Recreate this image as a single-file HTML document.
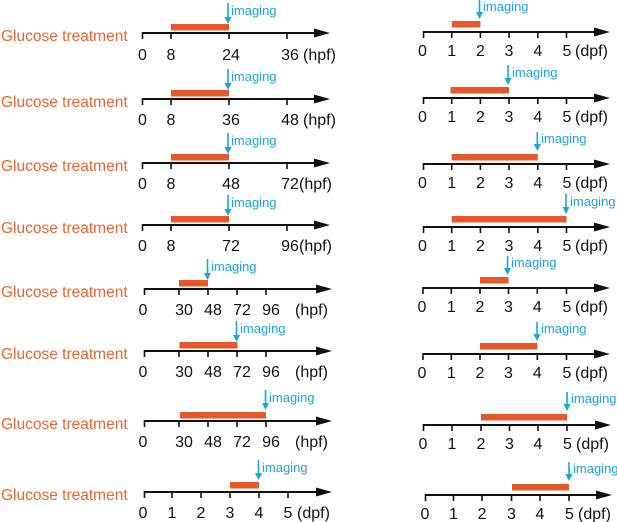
<!DOCTYPE html>
<html><head><meta charset="utf-8"><style>
html,body{margin:0;padding:0;background:#fff;}
svg{display:block;}
text{font-family:"Liberation Sans",Arial,sans-serif;}
.g{fill:#e8662f;font-size:15.5px;}
.t{fill:#111;font-size:16px;text-anchor:middle;}
.u{fill:#111;font-size:16px;}
.im{fill:#1ba4dd;font-size:13px;}
</style></head><body>
<svg width="617" height="522" viewBox="0 0 617 522" xmlns="http://www.w3.org/2000/svg">
<g id="left">
<!-- Row 1 -->
<text class="g" x="1" y="41">Glucose treatment</text>
<line x1="142" y1="33" x2="320" y2="33" stroke="#111" stroke-width="2"/>
<polygon points="314,28.5 330,33 314,37.5" fill="#111"/>
<g stroke="#111" stroke-width="1.6"><line x1="142.5" y1="32" x2="142.5" y2="39"/><line x1="171" y1="33" x2="171" y2="39"/><line x1="229" y1="33" x2="229" y2="39"/><line x1="287" y1="33" x2="287" y2="39"/></g>
<text class="t" x="142.5" y="60">0</text><text class="t" x="171" y="60">8</text><text class="t" x="231" y="60">24</text><text class="t" x="290" y="60">36</text><text class="u" x="303" y="60">(hpf)</text>
<rect x="171" y="24" width="58" height="6.5" fill="#e8562b"/>
<line x1="228" y1="3" x2="228" y2="18" stroke="#1ba4dd" stroke-width="1.6"/><polygon points="224.5,17 231.5,17 228,24" fill="#1ba4dd"/>
<text class="im" x="231" y="15">imaging</text>

<!-- Row 2 -->
<text class="g" x="1" y="107">Glucose treatment</text>
<line x1="142" y1="99" x2="320" y2="99" stroke="#111" stroke-width="2"/>
<polygon points="314,94.5 330,99 314,103.5" fill="#111"/>
<g stroke="#111" stroke-width="1.6"><line x1="142.5" y1="98" x2="142.5" y2="105"/><line x1="171" y1="99" x2="171" y2="105"/><line x1="229" y1="99" x2="229" y2="105"/><line x1="287" y1="99" x2="287" y2="105"/></g>
<text class="t" x="142.5" y="125">0</text><text class="t" x="171" y="125">8</text><text class="t" x="231" y="125">36</text><text class="t" x="290" y="125">48</text><text class="u" x="303" y="125">(hpf)</text>
<rect x="171" y="90" width="58" height="6.5" fill="#e8562b"/>
<line x1="228" y1="69" x2="228" y2="84" stroke="#1ba4dd" stroke-width="1.6"/><polygon points="224.5,83 231.5,83 228,90" fill="#1ba4dd"/>
<text class="im" x="231" y="81">imaging</text>

<!-- Row 3 -->
<text class="g" x="1" y="171">Glucose treatment</text>
<line x1="142" y1="163" x2="320" y2="163" stroke="#111" stroke-width="2"/>
<polygon points="314,158.5 330,163 314,167.5" fill="#111"/>
<g stroke="#111" stroke-width="1.6"><line x1="142.5" y1="162" x2="142.5" y2="169"/><line x1="171" y1="163" x2="171" y2="169"/><line x1="229" y1="163" x2="229" y2="169"/><line x1="287" y1="163" x2="287" y2="169"/></g>
<text class="t" x="142.5" y="189">0</text><text class="t" x="171" y="189">8</text><text class="t" x="231" y="189">48</text><text class="t" x="290" y="189">72</text><text class="u" x="299" y="189">(hpf)</text>
<rect x="171" y="154" width="58" height="6.5" fill="#e8562b"/>
<line x1="228" y1="133" x2="228" y2="148" stroke="#1ba4dd" stroke-width="1.6"/><polygon points="224.5,147 231.5,147 228,154" fill="#1ba4dd"/>
<text class="im" x="231" y="145">imaging</text>

<!-- Row 4 -->
<text class="g" x="1" y="233">Glucose treatment</text>
<line x1="142" y1="225" x2="320" y2="225" stroke="#111" stroke-width="2"/>
<polygon points="314,220.5 330,225 314,229.5" fill="#111"/>
<g stroke="#111" stroke-width="1.6"><line x1="142.5" y1="224" x2="142.5" y2="231"/><line x1="171" y1="225" x2="171" y2="231"/><line x1="229" y1="225" x2="229" y2="231"/><line x1="287" y1="225" x2="287" y2="231"/></g>
<text class="t" x="142.5" y="251">0</text><text class="t" x="171" y="251">8</text><text class="t" x="231" y="251">72</text><text class="t" x="290" y="251">96</text><text class="u" x="299" y="251">(hpf)</text>
<rect x="171" y="216" width="58" height="6.5" fill="#e8562b"/>
<line x1="228" y1="195" x2="228" y2="210" stroke="#1ba4dd" stroke-width="1.6"/><polygon points="224.5,209 231.5,209 228,216" fill="#1ba4dd"/>
<text class="im" x="231" y="207">imaging</text>

<!-- Row 5 -->
<text class="g" x="1" y="297">Glucose treatment</text>
<line x1="144" y1="289" x2="322" y2="289" stroke="#111" stroke-width="2"/>
<polygon points="316,284.5 332,289 316,293.5" fill="#111"/>
<g stroke="#111" stroke-width="1.6"><line x1="144.5" y1="288" x2="144.5" y2="295"/><line x1="179" y1="289" x2="179" y2="295"/><line x1="208" y1="289" x2="208" y2="295"/><line x1="237" y1="289" x2="237" y2="295"/><line x1="266" y1="289" x2="266" y2="295"/></g>
<text class="t" x="143" y="315">0</text><text class="t" x="184" y="315">30</text><text class="t" x="213" y="315">48</text><text class="t" x="242" y="315">72</text><text class="t" x="271" y="315">96</text><text class="u" x="295" y="315">(hpf)</text>
<rect x="179" y="280" width="29" height="6.5" fill="#e8562b"/>
<line x1="207.5" y1="259" x2="207.5" y2="274" stroke="#1ba4dd" stroke-width="1.6"/><polygon points="204,273 211,273 207.5,280" fill="#1ba4dd"/>
<text class="im" x="211" y="271">imaging</text>

<!-- Row 6 -->
<text class="g" x="1" y="359">Glucose treatment</text>
<line x1="144" y1="351" x2="322" y2="351" stroke="#111" stroke-width="2"/>
<polygon points="316,346.5 332,351 316,355.5" fill="#111"/>
<g stroke="#111" stroke-width="1.6"><line x1="144.5" y1="350" x2="144.5" y2="357"/><line x1="179" y1="351" x2="179" y2="357"/><line x1="208" y1="351" x2="208" y2="357"/><line x1="237" y1="351" x2="237" y2="357"/><line x1="266" y1="351" x2="266" y2="357"/></g>
<text class="t" x="143" y="377">0</text><text class="t" x="184" y="377">30</text><text class="t" x="213" y="377">48</text><text class="t" x="242" y="377">72</text><text class="t" x="271" y="377">96</text><text class="u" x="295" y="377">(hpf)</text>
<rect x="179.5" y="342" width="58" height="6.5" fill="#e8562b"/>
<line x1="236.5" y1="321" x2="236.5" y2="336" stroke="#1ba4dd" stroke-width="1.6"/><polygon points="233,335 240,335 236.5,342" fill="#1ba4dd"/>
<text class="im" x="240" y="333">imaging</text>

<!-- Row 7 -->
<text class="g" x="1" y="429">Glucose treatment</text>
<line x1="144" y1="421" x2="322" y2="421" stroke="#111" stroke-width="2"/>
<polygon points="316,416.5 332,421 316,425.5" fill="#111"/>
<g stroke="#111" stroke-width="1.6"><line x1="144.5" y1="420" x2="144.5" y2="427"/><line x1="179" y1="421" x2="179" y2="427"/><line x1="208" y1="421" x2="208" y2="427"/><line x1="237" y1="421" x2="237" y2="427"/><line x1="266" y1="421" x2="266" y2="427"/></g>
<text class="t" x="143" y="447">0</text><text class="t" x="184" y="447">30</text><text class="t" x="213" y="447">48</text><text class="t" x="242" y="447">72</text><text class="t" x="271" y="447">96</text><text class="u" x="295" y="447">(hpf)</text>
<rect x="180" y="412" width="86" height="6.5" fill="#e8562b"/>
<line x1="265.5" y1="390" x2="265.5" y2="404" stroke="#1ba4dd" stroke-width="1.6"/><polygon points="262,403 269,403 265.5,410" fill="#1ba4dd"/>
<text class="im" x="269" y="402">imaging</text>

<!-- Row 8 -->
<text class="g" x="1" y="500">Glucose treatment</text>
<line x1="144" y1="492" x2="322" y2="492" stroke="#111" stroke-width="2"/>
<polygon points="316,487.5 332,492 316,496.5" fill="#111"/>
<g stroke="#111" stroke-width="1.6"><line x1="144.5" y1="491" x2="144.5" y2="498"/><line x1="172" y1="492" x2="172" y2="498"/><line x1="201" y1="492" x2="201" y2="498"/><line x1="230" y1="492" x2="230" y2="498"/><line x1="259" y1="492" x2="259" y2="498"/><line x1="288" y1="492" x2="288" y2="498"/></g>
<text class="t" x="143" y="518">0</text><text class="t" x="172" y="518">1</text><text class="t" x="201" y="518">2</text><text class="t" x="230" y="518">3</text><text class="t" x="259" y="518">4</text><text class="t" x="288" y="518">5</text><text class="u" x="297" y="518">(dpf)</text>
<rect x="230" y="482" width="29" height="6.5" fill="#e8562b"/>
<line x1="258.5" y1="460" x2="258.5" y2="474" stroke="#1ba4dd" stroke-width="1.6"/><polygon points="255,473 262,473 258.5,480" fill="#1ba4dd"/>
<text class="im" x="262" y="472">imaging</text>
</g>

<g id="right">
<!-- R1 y=32 -->
<line x1="423" y1="32" x2="600" y2="32" stroke="#111" stroke-width="2"/>
<polygon points="594,27.5 610,32 594,36.5" fill="#111"/>
<g stroke="#111" stroke-width="1.6"><line x1="423.5" y1="31" x2="423.5" y2="38"/><line x1="451.7" y1="32" x2="451.7" y2="38"/><line x1="480.4" y1="32" x2="480.4" y2="38"/><line x1="509" y1="32" x2="509" y2="38"/><line x1="537.8" y1="32" x2="537.8" y2="38"/><line x1="566.5" y1="32" x2="566.5" y2="38"/></g>
<text class="t" x="422.5" y="56">0</text><text class="t" x="451.7" y="56">1</text><text class="t" x="480.4" y="56">2</text><text class="t" x="509" y="56">3</text><text class="t" x="537.8" y="56">4</text><text class="t" x="567" y="56">5</text><text class="u" x="575" y="56">(dpf)</text>
<rect x="451.7" y="21" width="28.7" height="6.5" fill="#e8562b"/>
<line x1="479.5" y1="0" x2="479.5" y2="13" stroke="#1ba4dd" stroke-width="1.6"/><polygon points="476,12 483,12 479.5,19" fill="#1ba4dd"/>
<text class="im" x="483" y="11">imaging</text>

<!-- R2 y=98 -->
<line x1="423" y1="98" x2="600" y2="98" stroke="#111" stroke-width="2"/>
<polygon points="594,93.5 610,98 594,102.5" fill="#111"/>
<g stroke="#111" stroke-width="1.6"><line x1="423.5" y1="97" x2="423.5" y2="104"/><line x1="451.7" y1="98" x2="451.7" y2="104"/><line x1="480.4" y1="98" x2="480.4" y2="104"/><line x1="509" y1="98" x2="509" y2="104"/><line x1="537.8" y1="98" x2="537.8" y2="104"/><line x1="566.5" y1="98" x2="566.5" y2="104"/></g>
<text class="t" x="422.5" y="122">0</text><text class="t" x="451.7" y="122">1</text><text class="t" x="480.4" y="122">2</text><text class="t" x="509" y="122">3</text><text class="t" x="537.8" y="122">4</text><text class="t" x="567" y="122">5</text><text class="u" x="575" y="122">(dpf)</text>
<rect x="450.5" y="87" width="58.5" height="6.5" fill="#e8562b"/>
<line x1="508" y1="65" x2="508" y2="79" stroke="#1ba4dd" stroke-width="1.6"/><polygon points="504.5,78 511.5,78 508,85" fill="#1ba4dd"/>
<text class="im" x="512" y="77">imaging</text>

<!-- R3 y=164 -->
<line x1="423" y1="164" x2="600" y2="164" stroke="#111" stroke-width="2"/>
<polygon points="594,159.5 610,164 594,168.5" fill="#111"/>
<g stroke="#111" stroke-width="1.6"><line x1="423.5" y1="163" x2="423.5" y2="170"/><line x1="451.7" y1="164" x2="451.7" y2="170"/><line x1="480.4" y1="164" x2="480.4" y2="170"/><line x1="509" y1="164" x2="509" y2="170"/><line x1="537.8" y1="164" x2="537.8" y2="170"/><line x1="566.5" y1="164" x2="566.5" y2="170"/></g>
<text class="t" x="422.5" y="188">0</text><text class="t" x="451.7" y="188">1</text><text class="t" x="480.4" y="188">2</text><text class="t" x="509" y="188">3</text><text class="t" x="537.8" y="188">4</text><text class="t" x="567" y="188">5</text><text class="u" x="575" y="188">(dpf)</text>
<rect x="451.7" y="154" width="86.1" height="6.5" fill="#e8562b"/>
<line x1="537.3" y1="132" x2="537.3" y2="145" stroke="#1ba4dd" stroke-width="1.6"/><polygon points="533.8,144 540.8,144 537.3,151" fill="#1ba4dd"/>
<text class="im" x="541" y="143">imaging</text>

<!-- R4 y=227 -->
<line x1="423" y1="227" x2="600" y2="227" stroke="#111" stroke-width="2"/>
<polygon points="594,222.5 610,227 594,231.5" fill="#111"/>
<g stroke="#111" stroke-width="1.6"><line x1="423.5" y1="226" x2="423.5" y2="233"/><line x1="451.7" y1="227" x2="451.7" y2="233"/><line x1="480.4" y1="227" x2="480.4" y2="233"/><line x1="509" y1="227" x2="509" y2="233"/><line x1="537.8" y1="227" x2="537.8" y2="233"/><line x1="566.5" y1="227" x2="566.5" y2="233"/></g>
<text class="t" x="422.5" y="251">0</text><text class="t" x="451.7" y="251">1</text><text class="t" x="480.4" y="251">2</text><text class="t" x="509" y="251">3</text><text class="t" x="537.8" y="251">4</text><text class="t" x="567" y="251">5</text><text class="u" x="575" y="251">(dpf)</text>
<rect x="451.7" y="216" width="114.8" height="6.5" fill="#e8562b"/>
<line x1="566" y1="194" x2="566" y2="208" stroke="#1ba4dd" stroke-width="1.6"/><polygon points="562.5,207 569.5,207 566,214" fill="#1ba4dd"/>
<text class="im" x="570" y="206">imaging</text>

<!-- R5 y=288 -->
<line x1="423" y1="288" x2="600" y2="288" stroke="#111" stroke-width="2"/>
<polygon points="594,283.5 610,288 594,292.5" fill="#111"/>
<g stroke="#111" stroke-width="1.6"><line x1="423" y1="287" x2="423" y2="294"/><line x1="451.3" y1="288" x2="451.3" y2="294"/><line x1="480" y1="288" x2="480" y2="294"/><line x1="508.5" y1="288" x2="508.5" y2="294"/><line x1="537.3" y1="288" x2="537.3" y2="294"/><line x1="566.5" y1="288" x2="566.5" y2="294"/></g>
<text class="t" x="422" y="312">0</text><text class="t" x="451.3" y="312">1</text><text class="t" x="480" y="312">2</text><text class="t" x="508.5" y="312">3</text><text class="t" x="537.3" y="312">4</text><text class="t" x="567" y="312">5</text><text class="u" x="575" y="312">(dpf)</text>
<rect x="480" y="277" width="28.5" height="6.5" fill="#e8562b"/>
<line x1="507.5" y1="256" x2="507.5" y2="269" stroke="#1ba4dd" stroke-width="1.6"/><polygon points="504,268 511,268 507.5,275" fill="#1ba4dd"/>
<text class="im" x="511" y="267">imaging</text>

<!-- R6 y=354 -->
<line x1="423" y1="354" x2="600" y2="354" stroke="#111" stroke-width="2"/>
<polygon points="594,349.5 610,354 594,358.5" fill="#111"/>
<g stroke="#111" stroke-width="1.6"><line x1="423" y1="353" x2="423" y2="360"/><line x1="451.3" y1="354" x2="451.3" y2="360"/><line x1="480" y1="354" x2="480" y2="360"/><line x1="508.5" y1="354" x2="508.5" y2="360"/><line x1="537.3" y1="354" x2="537.3" y2="360"/><line x1="566.5" y1="354" x2="566.5" y2="360"/></g>
<text class="t" x="422" y="378">0</text><text class="t" x="451.3" y="378">1</text><text class="t" x="480" y="378">2</text><text class="t" x="508.5" y="378">3</text><text class="t" x="537.3" y="378">4</text><text class="t" x="567" y="378">5</text><text class="u" x="575" y="378">(dpf)</text>
<rect x="480" y="343" width="57.3" height="6.5" fill="#e8562b"/>
<line x1="537" y1="322" x2="537" y2="335" stroke="#1ba4dd" stroke-width="1.6"/><polygon points="533.5,334 540.5,334 537,341" fill="#1ba4dd"/>
<text class="im" x="541" y="333">imaging</text>

<!-- R7 y=425 -->
<line x1="423" y1="425" x2="601" y2="425" stroke="#111" stroke-width="2"/>
<polygon points="595,420.5 611,425 595,429.5" fill="#111"/>
<g stroke="#111" stroke-width="1.6"><line x1="423.5" y1="424" x2="423.5" y2="431"/><line x1="452" y1="425" x2="452" y2="431"/><line x1="481" y1="425" x2="481" y2="431"/><line x1="509.5" y1="425" x2="509.5" y2="431"/><line x1="538" y1="425" x2="538" y2="431"/><line x1="567" y1="425" x2="567" y2="431"/></g>
<text class="t" x="423" y="449">0</text><text class="t" x="452" y="449">1</text><text class="t" x="481" y="449">2</text><text class="t" x="509.5" y="449">3</text><text class="t" x="538" y="449">4</text><text class="t" x="567.5" y="449">5</text><text class="u" x="576" y="449">(dpf)</text>
<rect x="481" y="414" width="86" height="6.5" fill="#e8562b"/>
<line x1="567" y1="392" x2="567" y2="405" stroke="#1ba4dd" stroke-width="1.6"/><polygon points="563.5,404 570.5,404 567,411" fill="#1ba4dd"/>
<text class="im" x="571" y="403">imaging</text>

<!-- R8 y=495 -->
<line x1="425" y1="495" x2="602" y2="495" stroke="#111" stroke-width="2"/>
<polygon points="596,490.5 612,495 596,499.5" fill="#111"/>
<g stroke="#111" stroke-width="1.6"><line x1="425.5" y1="494" x2="425.5" y2="501"/><line x1="453.5" y1="495" x2="453.5" y2="501"/><line x1="482" y1="495" x2="482" y2="501"/><line x1="511.5" y1="495" x2="511.5" y2="501"/><line x1="540" y1="495" x2="540" y2="501"/><line x1="569" y1="495" x2="569" y2="501"/></g>
<text class="t" x="425" y="519">0</text><text class="t" x="453.5" y="519">1</text><text class="t" x="482" y="519">2</text><text class="t" x="511.5" y="519">3</text><text class="t" x="540" y="519">4</text><text class="t" x="569.5" y="519">5</text><text class="u" x="578" y="519">(dpf)</text>
<rect x="512" y="484" width="57" height="6.5" fill="#e8562b"/>
<line x1="569" y1="462" x2="569" y2="475" stroke="#1ba4dd" stroke-width="1.6"/><polygon points="565.5,474 572.5,474 569,481" fill="#1ba4dd"/>
<text class="im" x="573" y="473">imaging</text>
</g>
</svg>
</body></html>
